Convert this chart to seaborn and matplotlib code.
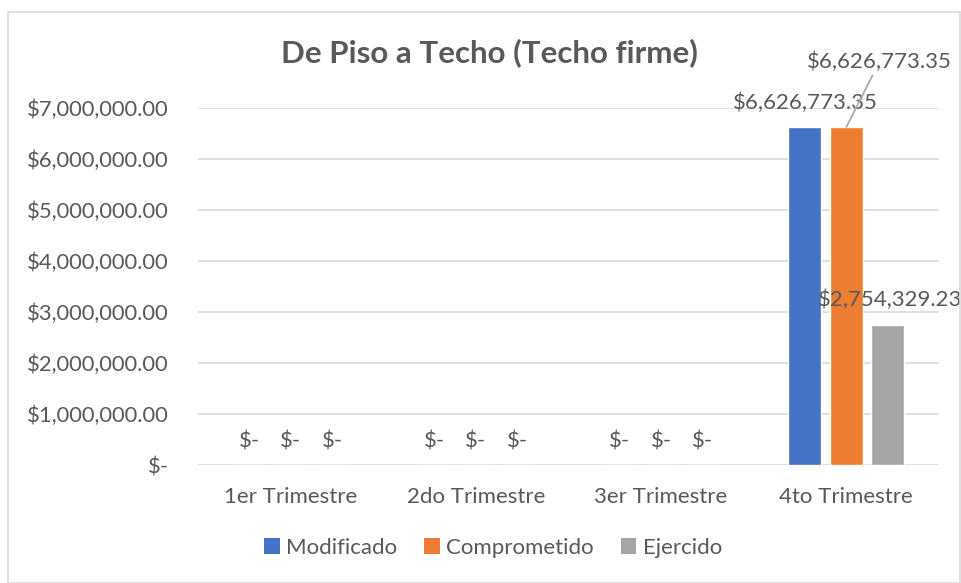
import matplotlib
matplotlib.use("Agg")
import matplotlib.pyplot as plt
import seaborn as sns
import pandas as pd
from matplotlib.patches import Rectangle, Patch

trimestres = ["1er Trimestre", "2do Trimestre", "3er Trimestre", "4to Trimestre"]
series = ["Modificado", "Comprometido", "Ejercido"]
modificado = [0, 0, 0, 6626773.35]
comprometido = [0, 0, 0, 6626773.35]
ejercido = [0, 0, 0, 2754329.23]
colores = ["#4472C4", "#ED7D31", "#A5A5A5"]
yticks = [0, 1e6, 2e6, 3e6, 4e6, 5e6, 6e6, 7e6]

df = pd.DataFrame({
    "Trimestre": trimestres * 3,
    "Serie": [s for s in series for _ in trimestres],
    "Valor": modificado + comprometido + ejercido,
})

sns.set_theme(style="white")
plt.rcParams["font.family"] = ["Lato", "DejaVu Sans"]
TXT = "#595959"

fig = plt.figure(figsize=(9.61, 5.83), dpi=100)
ax = fig.add_axes([198/961, 1-465/583, (939-198)/961, (465-108)/583])

sns.barplot(data=df, x="Trimestre", y="Valor", hue="Serie", order=trimestres,
            hue_order=series, palette=colores, width=0.672, gap=0.2,
            saturation=1, ax=ax, legend=False)

def fmt(v):
    return "$-" if v == 0 else f"${v:,.2f}"

ax.set_ylim(0, 7e6)
ax.set_yticks(yticks)
ax.set_yticklabels([fmt(v) for v in yticks])
ax.set_xlabel("")
ax.set_ylabel("")
ax.grid(axis="y", color="#D9D9D9", linewidth=1.2)
ax.set_axisbelow(True)
for s in ax.spines.values():
    s.set_visible(False)
ax.tick_params(axis="y", length=0, pad=21, labelsize=15.8, labelcolor=TXT)
ax.tick_params(axis="x", length=0, pad=16, labelsize=16, labelcolor=TXT)
ax.set_xlim(-0.5, 3.5)

LBL = 16
for si, cont in enumerate(ax.containers):
    for ti, bar in enumerate(cont):
        v = bar.get_height()
        xc = bar.get_x() + bar.get_width() / 2
        if si == 1 and v > 0:
            ax.annotate(fmt(v), xy=(xc, v), xytext=(33, 55),
                        textcoords="offset pixels", ha="center", va="bottom",
                        fontsize=LBL, color=TXT,
                        arrowprops=dict(arrowstyle="-", color="#A6A6A6", lw=1.2,
                                        shrinkA=0, shrinkB=0))
        else:
            dx = 2 if (si == 2 and v > 0) else 0
            ax.annotate(fmt(v), xy=(xc, v), xytext=(dx, 14),
                        textcoords="offset pixels", ha="center", va="bottom",
                        fontsize=LBL, color=TXT)

fig.text(489/961, 1-53/583, "De Piso a Techo (Techo firme)", ha="center", va="center",
         fontsize=22.5, fontweight="bold", color=TXT)

handles = [Patch(facecolor=c, edgecolor="none") for c in colores]
fig.legend(handles, series, loc="center", bbox_to_anchor=(493/961, 1-548/583),
           ncol=3, frameon=False, fontsize=16, labelcolor=TXT,
           handlelength=0.7, handleheight=0.7, handletextpad=0.3, columnspacing=1.2)

fig.add_artist(Rectangle((8/961, 0.5/583), 952/961, 570.5/583, transform=fig.transFigure,
                         fill=False, edgecolor="#D9D9D9", linewidth=1.2))

fig.savefig("out.png", dpi=100)
